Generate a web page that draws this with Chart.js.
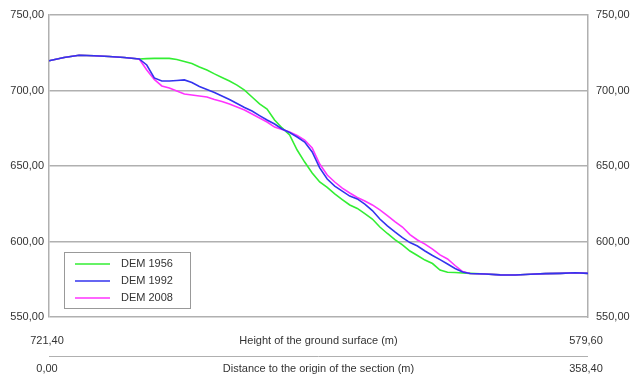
<!DOCTYPE html>
<html>
<head>
<meta charset="utf-8">
<script src="https://cdn.jsdelivr.net/npm/chart.js@4.4.0/dist/chart.umd.min.js"></script>
<style>
    body { margin: 0; background: #fff; }
    canvas { display: block; }
</style>
</head>
<body>
<canvas id="section_chart" width="632" height="378"></canvas>
<script>
// distanze lungo la sezione (m)
const distance = [0, 10, 20, 30, 40, 50, 60, 65, 70, 75, 80, 85, 90, 95, 100, 105, 110, 115, 120,
    125, 130, 135, 140, 145, 150, 155, 160, 165, 170, 175, 180, 185, 190, 195, 200, 205, 210,
    215, 220, 225, 230, 235, 240, 245, 250, 255, 260, 265, 270, 275, 280, 290, 300, 310, 320,
    330, 340, 350, 358.4];

const dem1956 = [719.7, 721.9, 723.3, 723.0, 722.5, 721.9, 720.9, 721.1, 721.3, 721.3, 721.3, 720.5,
    719.2, 717.9, 715.6, 713.6, 711.0, 708.6, 706.3, 703.6, 700.3, 695.7, 691.1, 687.7, 680.5,
    675.2, 670.6, 660.6, 652.6, 645.4, 639.4, 635.8, 631.5, 627.8, 624.2, 621.9, 618.5, 614.9,
    609.6, 605.3, 601.3, 597.7, 593.7, 590.7, 587.7, 585.4, 581.1, 579.6, 579.5, 579.1, 578.9,
    578.5, 577.9, 577.8, 578.3, 578.7, 578.9, 579.3, 578.9];

const dem1992 = [719.7, 721.9, 723.3, 723.0, 722.5, 721.9, 720.9, 716.9, 708.3, 706.3, 706.3, 706.6,
    707.0, 705.3, 702.6, 700.7, 698.7, 696.4, 694.0, 691.4, 688.7, 686.4, 683.4, 680.5, 677.8,
    674.5, 672.2, 669.2, 665.9, 659.3, 648.7, 641.4, 636.7, 633.4, 630.1, 628.2, 624.8, 620.5,
    614.9, 610.3, 606.3, 602.6, 599.3, 597.0, 593.7, 590.7, 588.0, 585.1, 582.1, 579.8, 578.8,
    578.5, 577.9, 577.8, 578.3, 578.7, 578.9, 579.3, 578.9];

const dem2008 = [719.7, 721.9, 723.3, 723.0, 722.5, 721.9, 720.9, 713.6, 707.3, 703.0, 701.7, 699.7,
    697.7, 697.0, 696.4, 695.7, 694.0, 692.7, 691.0, 689.1, 687.1, 684.4, 681.8, 679.1, 675.8,
    674.2, 672.5, 670.2, 667.2, 661.9, 651.3, 644.0, 639.4, 635.4, 632.1, 629.1, 626.8, 624.2,
    620.9, 617.2, 613.2, 609.6, 604.6, 601.0, 598.3, 595.0, 591.1, 588.4, 584.1, 580.1, 578.8,
    578.5, 577.9, 577.8, 578.3, 578.7, 578.9, 579.3, 578.9];

const seriesNames = ['DEM 1956', 'DEM 1992', 'DEM 2008'];
const yTicks = [550, 600, 650, 700, 750];

// testi sotto il grafico
const heightLabel = 'Height of the ground surface (m)';
const distanceLabel = 'Distance to the origin of the section (m)';
const heightEnds = ['721,40', '579,60'];
const distanceEnds = ['0,00', '358,40'];

const FONT = '11px "Liberation Sans", Arial, sans-serif';
const TEXT = '#333333';
const GRID = '#b0b0b0';

function fmt(v) {
    return Number(v).toFixed(2).replace('.', ',');
}

function toPoints(values) {
    return values.map((v, i) => ({ x: distance[i], y: v }));
}

// legenda nel riquadro in basso a sinistra + righe di testo in fondo
const sectionPlugin = {
    id: 'sectionFooter',
    afterDraw(chart) {
        const ctx = chart.ctx;
        const a = chart.chartArea;
        ctx.save();
        ctx.font = FONT;
        ctx.fillStyle = TEXT;
        ctx.textBaseline = 'middle';

        // legenda
        const bx = a.left + 15, by = a.bottom - 65;
        ctx.fillStyle = '#fff';
        ctx.fillRect(bx, by, 126, 56);
        ctx.strokeStyle = '#999';
        ctx.lineWidth = 1;
        ctx.strokeRect(bx + 0.5, by + 0.5, 126, 56);
        chart.data.datasets.forEach((ds, i) => {
            const y = by + 12 + i * 17;
            ctx.strokeStyle = ds.borderColor;
            ctx.lineWidth = 1.5;
            ctx.beginPath();
            ctx.moveTo(bx + 11, y);
            ctx.lineTo(bx + 46, y);
            ctx.stroke();
            ctx.fillStyle = TEXT;
            ctx.textAlign = 'left';
            ctx.fillText(ds.label, bx + 57, y);
        });

        // righe in fondo
        const cx = (a.left + a.right) / 2;
        const r1 = a.bottom + 24, r2 = a.bottom + 52;
        ctx.fillStyle = TEXT;
        ctx.textAlign = 'center';
        ctx.fillText(heightEnds[0], a.left - 2, r1);
        ctx.fillText(heightLabel, cx, r1);
        ctx.fillText(heightEnds[1], a.right - 2, r1);
        ctx.fillText(distanceEnds[0], a.left - 2, r2);
        ctx.fillText(distanceLabel, cx, r2);
        ctx.fillText(distanceEnds[1], a.right - 2, r2);

        ctx.strokeStyle = GRID;
        ctx.lineWidth = 1;
        ctx.beginPath();
        ctx.moveTo(a.left, a.bottom + 39.5);
        ctx.lineTo(a.right, a.bottom + 39.5);
        ctx.stroke();
        ctx.restore();
    }
};

const yCommon = {
    min: yTicks[0],
    max: yTicks[yTicks.length - 1],
    afterBuildTicks: s => { s.ticks = yTicks.map(v => ({ value: v })); },
    ticks: {
        callback: v => fmt(v),
        font: { family: '"Liberation Sans", Arial, sans-serif', size: 11 },
        color: TEXT
    },
    border: { color: GRID, width: 1.5 }
};

new Chart(document.getElementById('section_chart'), {
    type: 'line',
    data: {
        datasets: [
            // order: il 1992 (blu) sta sopra gli altri
            { label: seriesNames[0], data: toPoints(dem1956), borderColor: '#33ee33', order: 2 },
            { label: seriesNames[1], data: toPoints(dem1992), borderColor: '#3333ee', order: 0 },
            { label: seriesNames[2], data: toPoints(dem2008), borderColor: '#ff33ff', order: 1 }
        ]
    },
    options: {
        responsive: false,
        animation: false,
        layout: { padding: { top: 15, bottom: 61, left: 0, right: 0 } },
        elements: {
            point: { radius: 0 },
            line: { borderWidth: 1.6, tension: 0 }
        },
        plugins: {
            legend: { display: false },
            tooltip: { enabled: false }
        },
        scales: {
            x: { type: 'linear', min: 0, max: 358.4, display: false },
            y: {
                ...yCommon,
                position: 'left',
                grid: { color: GRID, lineWidth: 1.5, drawTicks: false },
                ticks: { ...yCommon.ticks, padding: 5 },
                afterFit: s => { s.width = 49; }
            },
            y2: {
                ...yCommon,
                position: 'right',
                grid: { display: false, drawTicks: false },
                ticks: { ...yCommon.ticks, padding: 8 },
                afterFit: s => { s.width = 44; }
            }
        }
    },
    plugins: [sectionPlugin]
});
</script>
</body>
</html>
